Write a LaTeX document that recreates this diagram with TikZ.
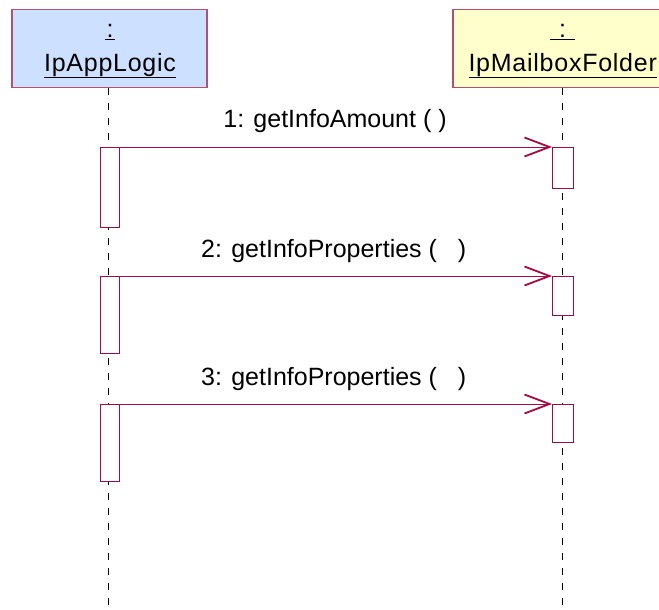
\documentclass[tikz,border=0pt]{standalone}
\usepackage{fontspec}
\setmainfont{Liberation Sans}
\newfontfamily\hdrfont[LetterSpace=3]{Liberation Sans}
\usetikzlibrary{arrows.meta}
\definecolor{bordc}{RGB}{180,80,110}
\definecolor{msgc}{RGB}{165,10,70}
\definecolor{bluefill}{RGB}{206,224,255}
\definecolor{yelfill}{RGB}{255,255,204}
\begin{document}
\begin{tikzpicture}[x=1pt,y=-1pt,
  hdr/.style={draw=bordc,line width=1.2pt,rectangle,inner sep=0pt,minimum height=78pt},
  lbl/.style={inner sep=0pt,font=\fontsize{25}{30}\selectfont,anchor=base},
  hlbl/.style={inner sep=0pt,font=\fontsize{25}{30}\hdrfont,anchor=base},
  life/.style={draw=black,line width=0.8pt,dash pattern=on 7pt off 8pt},
  act/.style={draw=msgc,fill=white,line width=1pt,rectangle,inner sep=0pt,anchor=north west},
  msg/.style={draw=msgc,line width=1pt,-{Straight Barb[length=25pt,width=19pt,line width=1.8pt]}}]
\useasboundingbox (0,0) rectangle (659,610);
% headers
\node[hdr,fill=bluefill,minimum width=195pt] (hA) at (109.5,48.3) {};
\node[hdr,fill=yelfill,minimum width=219pt] (hB) at (562.5,48.3) {};
\node[hlbl] (hAc) at (110,38) {\underline{\kern1.5pt:\kern1.5pt}};
\node[hlbl] (hAn) at (110,71) {\underline{IpAppLogic}};
\node[hlbl] (hBc) at (562.7,38) {\underline{\kern9pt:\kern9pt}};
\node[hlbl] (hBn) at (562.7,71) {\underline{IpMailboxFolder}};
% lifelines
\coordinate (lAs) at (108,88);
\coordinate (lAe) at (108,605);
\coordinate (lBs) at (562.5,88);
\coordinate (lBe) at (562.5,605);
\draw[life] (lAs) -- (lAe);
\draw[life] (lBs) -- (lBe);
% activations
\node[act,minimum width=18.7pt,minimum height=80pt] (aA1) at (100,147) {};
\node[act,minimum width=18.7pt,minimum height=77pt] (aA2) at (100,276) {};
\node[act,minimum width=18.7pt,minimum height=77pt] (aA3) at (100,404) {};
\node[act,minimum width=20.7pt,minimum height=41pt] (aB1) at (552,147) {};
\node[act,minimum width=20.7pt,minimum height=39pt] (aB2) at (552,276) {};
\node[act,minimum width=20.7pt,minimum height=38pt] (aB3) at (552,404) {};
% messages
\draw[msg] (aA1.north east) -- (aB1.north west);
\draw[msg] (aA2.north east) -- (aB2.north west);
\draw[msg] (aA3.north east) -- (aB3.north west);
\node[lbl] (m1) at (335,128) {1: getInfoAmount ( )};
\node[lbl] (m2) at (333.7,257) {2: getInfoProperties (\ \ \ )};
\node[lbl] (m3) at (333.7,385) {3: getInfoProperties (\ \ \ )};
\end{tikzpicture}
\end{document}
